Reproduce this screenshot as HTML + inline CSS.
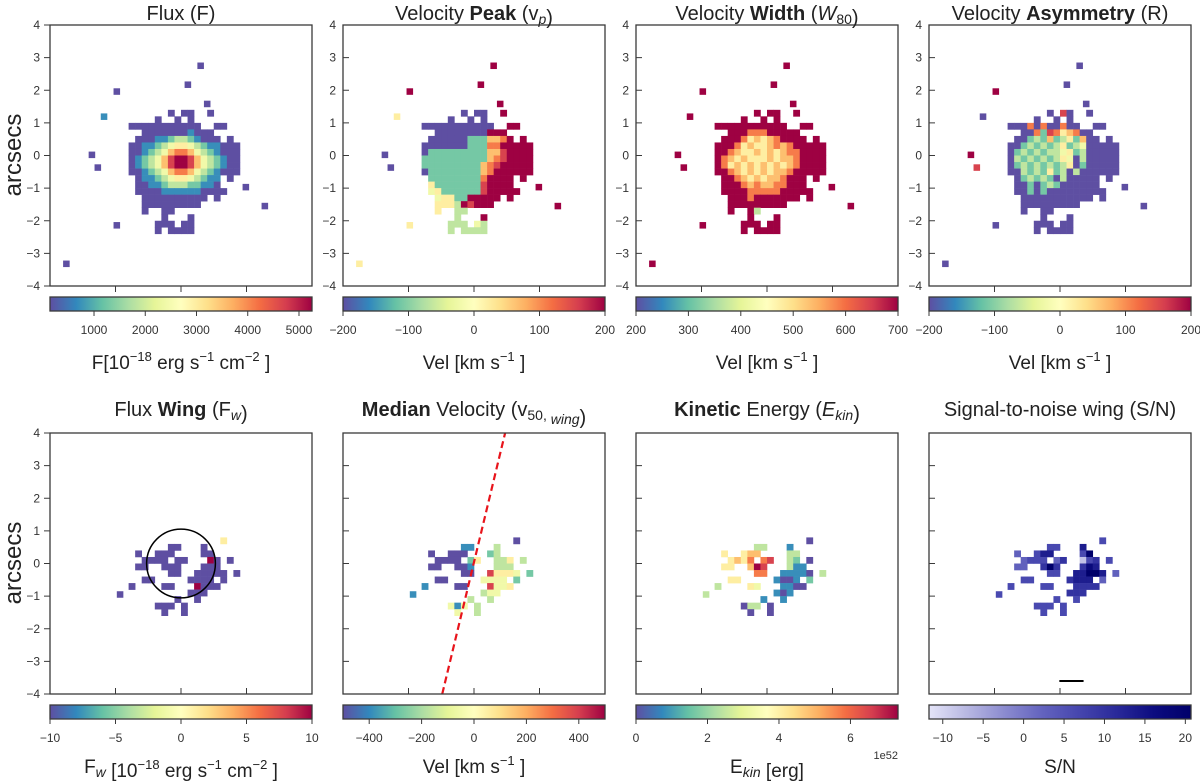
<!DOCTYPE html>
<html><head><meta charset="utf-8"><style>
body{margin:0;background:#fff;}
svg{display:block;font-family:"Liberation Sans","DejaVu Sans",sans-serif;}
</style></head><body>
<svg id="fig" width="1200" height="781" viewBox="0 0 1200 781" xmlns="http://www.w3.org/2000/svg"></svg>
<script>
// ---- data: pixel maps, 20x20 cells of 0.2", x from -2.0, row 0 top at y=1.4; digits = colour level 0..9
const fluxGrid=["........0.00..0.....","......0..0.0........","..00000000000..00...","....00000001000.....","...0001123321000.0..","..00112345543211000.","..00123467764321000.","..01234689986432100.","..01234689986432100.","..00123467764321000.","...0112345543211.0..","...0011233322110....","...00001111110000...","....0000000000.0....","....000000000.......","....0..00...........",".......0...0........","......000.00........","......0.0000........","...................."];
const peakGrid=["........0.00..9.....","......0..0.0........","..00000000000..99...","....00000000999.....","...0000002226679.9..","..00000002227799999.","..02222222226689999.","..22222222226789999.","..22222222267899999.","..02222222267999999.","...2222222279999.9..","...5222222289999....","...45222222899999...","....4552299999.9....","....555398999.......","....5..33...........",".......3...9........","......333.43........","......3.3333........","...................."];
const widthGrid=["........9.99..9.....","......9..9.9........","..99999999999..99...","....99977799999.....","...9997565679999.9..","..99975655676799999.","..99765565656779999.","..97656555656679999.","..97565656565679999.","..99765656566799999.","...9976565667999.9..","...9997676677999....","...99997777799999...","....99979999999.9...","....999999999.......","....9..93...........",".......9...9........","......999.99........","......9.9999........","...................."];
const asymGrid=["........0.80..0.....","......0..0.0........","..00070700700..00...","....00728756700.....","...0023262352600.0..","..00232323523400000.","..02323233452300000.","..03232323540300000.","..02323232350200000.","..00323252303000000.","...0232320300000.0..","...0020232000000....","...00202000000000...","....00000000000.0...","....000000000.......","....0..00...........",".......0...0........","......000.00........","......0.0000........","...................."];
const wingGrid=["....................","....................","....................","................5...","........00...0......","...0..000....00.....","....0000.00...90.0..","...00..000...000....","........00..00000.0.","....00.....0000.0...","..0....00...9000....","...........000......",".........0..0.......","......000.0.........",".......0..0.........","....................","....................","....................","....................","...................."];
const medGrid=["....................","....................","....................","................0...","........11...3......","...0..000...23.....","....0000.25..335.3..","...00..001...333....","........00..85554.2.","....00.....4444.2...","..1....00...8445....","...........344......",".........3..3.......","......414.3.........",".......4..3.........","....................","....................","....................","....................","...................."];
const kinGrid=["....................","....................","....................","................0...","........33...1......","...5..566....33.....","....5657.78..32.0...","...55..698...311....","........77..11110.3.","....55.....1001.2...","..3....54...1100....","...........101......",".........1..1.......","......033.0.........",".......0..0.........","....................","....................","....................","....................","...................."];
const snGrid=["....................","....................","....................","................5...","........55...7......","...4..577....59.....","....4555.46..156.5..","...44..696...687....","........55..77997.4.","....55.....6777.4...","..5....55...6666....","...........666......",".........5..5.......","......555.5.........",".......5..5.........","....................","....................","....................","....................","...................."];
// isolated pixels: [x, y, level]
const fluxIso=[[-1.96,1.96,0],[-2.35,1.19,1],[-2.72,0.02,0],[-2.54,-0.37,0],[-1.96,-2.14,0],[-3.5,-3.32,0],[0.6,2.75,0],[0.21,2.17,0],[0.8,1.58,0],[1.98,-0.97,0],[2.56,-1.55,0]];
const peakIso=[[-1.96,1.96,9],[-2.35,1.19,5],[-2.72,0.02,0],[-2.54,-0.37,0],[-1.96,-2.14,5],[-3.5,-3.32,5],[0.6,2.75,9],[0.21,2.17,9],[0.8,1.58,9],[1.98,-0.97,9],[2.56,-1.55,9]];
const widthIso=[[-1.96,1.96,9],[-2.35,1.19,9],[-2.72,0.02,9],[-2.54,-0.37,9],[-1.96,-2.14,9],[-3.5,-3.32,9],[0.6,2.75,9],[0.21,2.17,9],[0.8,1.58,9],[1.98,-0.97,9],[2.56,-1.55,9]];
const asymIso=[[-1.96,1.96,9],[-2.35,1.19,0],[-2.72,0.02,9],[-2.54,-0.37,8],[-1.96,-2.14,0],[-3.5,-3.32,0],[0.6,2.75,0],[0.21,2.17,0],[0.8,1.58,0],[1.98,-0.97,0],[2.56,-1.55,0]];
const botIso=[[-1.86,-0.95]];
// colorbar ticks
const fluxTicks=[1000,2000,3000,4000,5000], peakTicks=[-200,-100,0,100,200], widthTicks=[200,300,400,500,600,700], asymTicks=[-200,-100,0,100,200];
const wingTicks=[-10,-5,0,5,10], medTicks=[-400,-200,0,200,400], kinTicks=[0,2,4,6], snTicks=[-10,-5,0,5,10,15,20];
const medLine=[[-0.97,-4],[0.95,4]];
const snBar=[[-0.02,-3.6],[0.72,-3.6]];

const SPEC=["#5e4fa2","#3288bd","#66c2a5","#abdda4","#e6f598","#ffffbf","#fee08b","#fdae61","#f46d43","#d53e4f","#9e0142"];
const PURP=["#e4e4f8","#b8b8e2","#8c8cd0","#6464bf","#4646ae","#2a2a9a","#0c0c80","#00006a"];
function hex(c){return [1,3,5].map(i=>parseInt(c.substr(i,2),16));}
function cmap(stops,t){t=Math.max(0,Math.min(1,t));const f=t*(stops.length-1),i=Math.min(Math.floor(f),stops.length-2),u=f-i;const a=hex(stops[i]),b=hex(stops[i+1]);return "rgb("+a.map((v,k)=>Math.round(v+(b[k]-v)*u)).join(",")+")";}
const S=document.getElementById('fig');const NS="http://www.w3.org/2000/svg";
function el(tag,attrs,parent){const e=document.createElementNS(NS,tag);for(const k in attrs)e.setAttribute(k,attrs[k]);(parent||S).appendChild(e);return e;}
const PX=[50,343,636,929], PW=262;
function panel(i,row,title,grid,iso,stops,cb,label,opt){
  const x0=PX[i], y0=row?433:25, H=261;
  const g=el('g',{});
  
  
  const sx=v=>x0+(v+4)*PW/8, sy=v=>y0+(4-v)*H/8;
  const cw=0.2*PW/8, ch=0.2*H/8;
  grid.forEach((r,ri)=>{for(let ci=0;ci<r.length;ci++){const c=r[ci];if(c==='.')continue;
    const rc=el('rect',{x:sx(-2+ci*0.2),y:sy(1.4-ri*0.2),width:cw+0.3,height:ch+0.3,fill:cmap(stops,(+c)/9)},g);
    
    }});
  iso.forEach(p=>{const rc=el('rect',{x:sx(p[0])-cw/2,y:sy(p[1])-ch/2,width:cw,height:ch,fill:cmap(stops,(p.length>2?p[2]:0)/9)},g);
    
    });
  if(opt.after)opt.after(g,sx,sy);
  const fr=el('rect',{x:x0,y:y0,width:PW,height:H,fill:'none',stroke:'#3a3a3a','stroke-width':1.3},g);
  
  
  for(let v=-4;v<=4;v++){const y=sy(v);
    if(i===0){el('line',{x1:x0-6,x2:x0,y1:y,y2:y,stroke:'#3a3a3a'},g);}
    else el('line',{x1:x0,x2:x0+6,y1:y,y2:y,stroke:'#3a3a3a'},g);
    if(row===0||i===0){const t=el('text',{x:x0-(i===0?10:7),y:y+4,'text-anchor':'end','font-size':12,fill:'#333'},g);t.textContent=(v<0?'\u2212':'')+Math.abs(v);
      
      }}
  [-2,0,2].forEach(v=>{const x=sx(v);if(row===0)el('line',{x1:x,x2:x,y1:y0+H,y2:y0+H+6,stroke:'#3a3a3a'},g);else el('line',{x1:x,x2:x,y1:y0+H-6,y2:y0+H,stroke:'#3a3a3a'},g);});
  const t=el('text',{x:x0+PW/2,y:row?416:20,'text-anchor':'middle','font-size':20,fill:'#222'},g);t.innerHTML=title;
  
  
  const cy=row?705:297, chh=14;
  const gid='grad'+i+row;const gr=el('linearGradient',{id:gid,x1:0,x2:1,y1:0,y2:0},g);
  stops.forEach((s,k)=>el('stop',{offset:k/(stops.length-1),'stop-color':s},gr));
  const cbr=el('rect',{x:x0,y:cy,width:PW,height:chh,fill:'url(#'+gid+')',stroke:'#3a3a3a','stroke-width':1.3},g);
  
  
  const [lo,hi]=cb.range;
  cb.ticks.forEach(v=>{const x=x0+(v-lo)/(hi-lo)*PW;el('line',{x1:x,x2:x,y1:cy+chh,y2:cy+chh+5,stroke:'#3a3a3a'},g);
    const tt=el('text',{x:x,y:cy+chh+23,'text-anchor':'middle','font-size':12,fill:'#333'},g);tt.textContent=(v<0?'\u2212':'')+Math.abs(v);
    
    });
  const lt=el('text',{x:x0+PW/2,y:row?773:369,'text-anchor':'middle','font-size':19,fill:'#222'},g);lt.innerHTML=label;
  
  
  if(opt.exp){const e=el('text',{x:x0+PW,y:cy+chh+40,'text-anchor':'end','font-size':11,fill:'#333'},g);e.textContent=opt.exp;
    
    }
}
const sup=s=>'<tspan dy="-8" font-size="13">'+s+'</tspan><tspan dy="8"> </tspan>';
const sub=s=>'<tspan dy="4" font-size="14" font-style="italic">'+s+'</tspan><tspan dy="-4"></tspan>';
const subn=s=>'<tspan dy="4" font-size="14">'+s+'</tspan><tspan dy="-4"></tspan>';
const units='[10'+sup('\u221218')+'erg s'+sup('\u22121')+'cm'+sup('\u22122')+']';
panel(0,0,'Flux (F)',fluxGrid,fluxIso,SPEC,{range:[141,5254],ticks:fluxTicks},'F'+units,{name:'flux'});
panel(1,0,'Velocity <tspan font-weight="bold">Peak</tspan> (v'+sub('p')+')',peakGrid,peakIso,SPEC,{range:[-200,200],ticks:peakTicks},'Vel [km s'+sup('\u22121')+']',{name:'velocity-peak'});
panel(2,0,'Velocity <tspan font-weight="bold">Width</tspan> (<tspan font-style="italic">W</tspan>'+subn('80')+')',widthGrid,widthIso,SPEC,{range:[200,700],ticks:widthTicks},'Vel [km s'+sup('\u22121')+']',{name:'velocity-width'});
panel(3,0,'Velocity <tspan font-weight="bold">Asymmetry</tspan> (R)',asymGrid,asymIso,SPEC,{range:[-200,200],ticks:asymTicks},'Vel [km s'+sup('\u22121')+']',{name:'velocity-asymmetry'});
panel(0,1,'Flux <tspan font-weight="bold">Wing</tspan> (F'+sub('w')+')',wingGrid,botIso,SPEC,{range:[-10,10],ticks:wingTicks},'F'+sub('w')+' '+units,{name:'flux-wing',after:(g,sx,sy)=>{
  const c=el('circle',{cx:sx(0),cy:sy(0),r:1.05*PW/8,fill:'none',stroke:'#000','stroke-width':1.5},g);
  
  }});
panel(1,1,'<tspan font-weight="bold">Median</tspan> Velocity (v'+subn('50, ')+sub('wing')+')',medGrid,[[-1.86,-0.95,1]],SPEC,{range:[-500,500],ticks:medTicks},'Vel [km s'+sup('\u22121')+']',{name:'median-velocity',after:(g,sx,sy)=>{
  const l=el('line',{x1:sx(medLine[0][0]),y1:sy(medLine[0][1]),x2:sx(medLine[1][0]),y2:sy(medLine[1][1]),stroke:'#e8141b','stroke-width':2.2,'stroke-dasharray':'7,4'},g);
  
  }});
panel(2,1,'<tspan font-weight="bold">Kinetic</tspan> Energy (<tspan font-style="italic">E</tspan>'+sub('kin')+')',kinGrid,[[-1.86,-0.95,3]],SPEC,{range:[0,7.33],ticks:kinTicks},'E'+sub('kin')+' [erg]',{name:'kinetic-energy',exp:'1e52'});
panel(3,1,'Signal-to-noise wing (S/N)',snGrid,[[-1.86,-0.95,5]],PURP,{range:[-11.7,20.7],ticks:snTicks},'S/N',{name:'signal-to-noise',after:(g,sx,sy)=>{
  const l=el('line',{x1:sx(snBar[0][0]),y1:sy(snBar[0][1]),x2:sx(snBar[1][0]),y2:sy(snBar[1][1]),stroke:'#000','stroke-width':2},g);
  
  }});
[[155],[563]].forEach(p=>{const t=el('text',{x:0,y:0,transform:'translate(21,'+p[0]+') rotate(-90)','text-anchor':'middle','font-size':24,fill:'#222'});t.textContent='arcsecs';
  
  });
</script>
</body></html>
